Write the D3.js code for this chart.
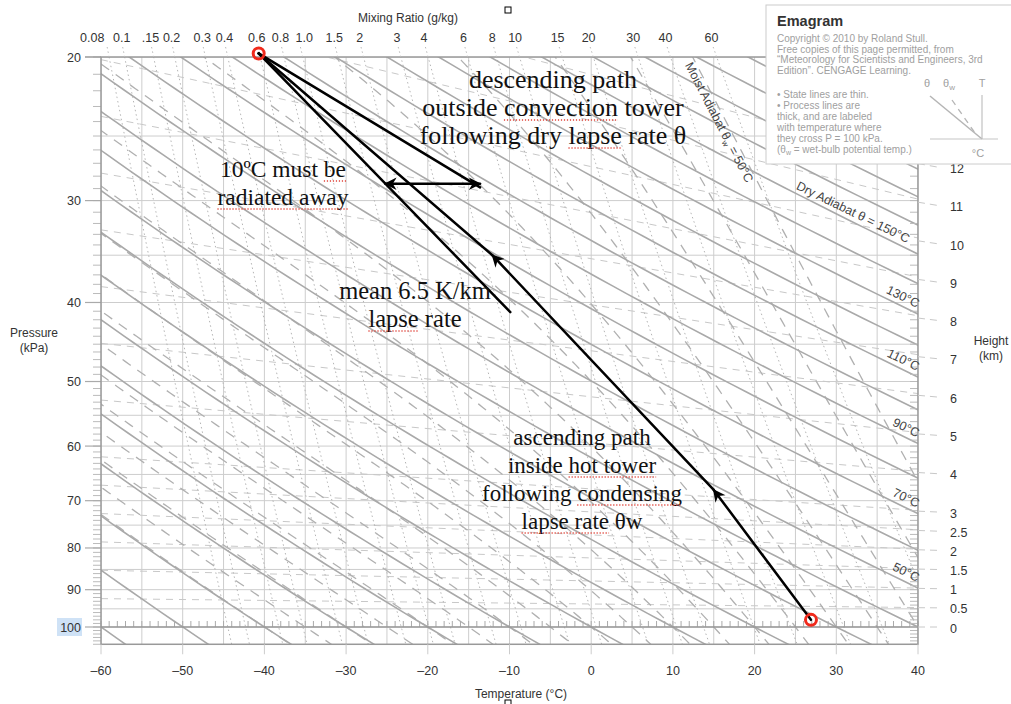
<!DOCTYPE html>
<html lang="en">
<head>
<meta charset="utf-8" />
<title>Emagram</title>
<script src="https://d3js.org/d3.v7.min.js"></script>
<style>
  body { margin: 0; background: #fff; }
  text { font-family: "Liberation Sans", Arial, sans-serif; }
  .tick { font-size: 12.5px; fill: #333; }
  .note { font-family: "Liberation Serif", "Times New Roman", serif; font-size: 23px; fill: #111; }
  .legend { font-size: 10px; fill: #a0a0a0; }
</style>
</head>
<body>
<script>
// ---- chart data ----
const tempTicks = [-60, -50, -40, -30, -20, -10, 0, 10, 20, 30, 40];
const isotherms = [-60, -55, -50, -45, -40, -35, -30, -25, -20, -15, -10, -5, 0, 5, 10, 15, 20, 25, 30, 35, 40];
const pressureTicks = [20, 30, 40, 50, 60, 70, 80, 90, 100];
const isobars = [20, 25, 30, 35, 40, 45, 50, 55, 60, 65, 70, 75, 80, 85, 90, 95, 100];
const dryAdiabats = [-60, -50, -40, -30, -20, -10, 0, 10, 20, 30, 40, 50, 60, 70, 80, 90, 100, 110, 120, 130, 140, 150, 160, 170, 180, 190, 200, 210, 220];
const dryLabels = [50, 70, 90, 110, 130, 150];
const moistAdiabats = [-40, -35, -30, -25, -20, -15, -10, -5, 0, 5, 10, 15, 20, 25, 30, 35, 40, 45, 50];
const mixingRatios = [0.08, 0.1, 0.15, 0.2, 0.3, 0.4, 0.6, 0.8, 1.0, 1.5, 2, 3, 4, 6, 8, 10, 15, 20, 30, 40, 60];
const mixingLabels = ["0.08", "0.1", ".15", "0.2", "0.3", "0.4", "0.6", "0.8", "1.0", "1.5", "2", "3", "4", "6", "8", "10", "15", "20", "30", "40", "60"];
const heights = [0, 0.5, 1, 1.5, 2, 2.5, 3, 4, 5, 6, 7, 8, 9, 10, 11, 12];
const heightLabels = ["0", "0.5", "1", "1.5", "2", "2.5", "3", "4", "5", "6", "7", "8", "9", "10", "11", "12"];

// annotation paths, [T (degC), P (kPa)]
const topPoint = [-40.7, 19.8];
const bottomPoint = [26.9, 98];
const ascendPath = [[26.9, 98], [15.0, 67.9], [-12.1, 35.0], [-40.7, 19.8]];
const descendPath = [[-40.7, 19.8], [-13.6, 28.9]];
const meanLapsePath = [[-40.7, 19.8], [-9.9, 41.1]];
const radiatedArrow = [[-25.2, 28.6], [-13.6, 28.6]];

// note blocks: centre x, first baseline, font size, flagged words
const notes = [
  { lines: ["descending path", "outside convection tower", "following dry lapse rate θ"], cx: 553, y0: 88, size: 26,
    flags: [[], ["convection"], ["lapse"]] },
  { lines: ["10ºC must be", "radiated away"], cx: 283, y0: 177, size: 23.5, flags: [["be"], ["radiated away"]] },
  { lines: ["mean 6.5 K/km", "lapse rate"], cx: 415, y0: 299, size: 24.5, flags: [[], ["lapse"]] },
  { lines: ["ascending path", "inside hot tower", "following condensing", "lapse rate θw"], cx: 582, y0: 445, size: 23,
    flags: [[], ["hot tower"], ["condensing"], ["lapse rate"]] }
];

// ---- thermodynamics ----
const Rd = 287, cp = 1004, Lv = 2.5e6, eps = 0.622, LRv = 5423, K0 = 273.15;
const es = Tc => 0.6113 * Math.exp(LRv * (1 / K0 - 1 / (Tc + K0)));
const dryT = (th, p) => (th + K0) * Math.pow(p / 100, Rd / cp) - K0;
const mixT = (r, p) => {
  const e = (r / 1000) * p / (eps + r / 1000);
  return 1 / (1 / K0 - Math.log(e / 0.6113) / LRv) - K0;
};
const heightP = (z, Tc) => 100 * Math.exp(-9.8 * z * 1000 / (Rd * (Tc + K0)));
function moistSlope(TK, lnp) {
  const p = Math.exp(lnp), e = es(TK - K0), rs = eps * e / (p - e);
  return (Rd * TK + Lv * rs) / (cp + Lv * Lv * rs * eps / (Rd * TK * TK));
}
function moistCurve(tw) {
  const pts = [];
  const step = (TK, lnp, h) => {
    const k1 = moistSlope(TK, lnp);
    const k2 = moistSlope(TK + h * k1 / 2, lnp + h / 2);
    const k3 = moistSlope(TK + h * k2 / 2, lnp + h / 2);
    const k4 = moistSlope(TK + h * k3, lnp + h);
    return TK + h * (k1 + 2 * k2 + 2 * k3 + k4) / 6;
  };
  let TK = tw + K0, lnp = Math.log(100);
  while (lnp > Math.log(18)) { pts.unshift([TK - K0, Math.exp(lnp)]); TK = step(TK, lnp, -0.01); lnp -= 0.01; }
  TK = tw + K0; lnp = Math.log(100);
  while (lnp < Math.log(108)) { lnp += 0.01; TK = step(TK, lnp - 0.01, 0.01); pts.push([TK - K0, Math.exp(lnp)]); }
  return pts;
}

// ---- layout ----
const W = 1011, H = 704;
const pTop = 20, pBottom = 105;
const x = d3.scaleLinear().domain([-60, 40]).range([101, 918]);
const y = d3.scaleLog().domain([20, 100]).range([57, 627]);
const line = d3.line().x(d => x(d[0])).y(d => y(d[1]));
const pSamples = d3.range(0, 81).map(i => 17 * Math.pow(108 / 17, i / 80));

const svg = d3.select("body").append("svg").attr("width", W).attr("height", H);
const defs = svg.append("defs");
defs.append("clipPath").attr("id", "plot").append("rect")
  .attr("x", x(-60)).attr("y", y(pTop)).attr("width", x(40) - x(-60)).attr("height", y(pBottom) - y(pTop));
defs.append("marker").attr("id", "head").attr("viewBox", "0 0 10 10").attr("refX", 9).attr("refY", 5)
  .attr("markerWidth", 6).attr("markerHeight", 5).attr("orient", "auto-start-reverse").attr("markerUnits", "strokeWidth")
  .append("path").attr("d", "M0,0 L10,5 L0,10 L3,5 Z").attr("fill", "#000");

const grid = svg.append("g").attr("clip-path", "url(#plot)");

// isotherms
grid.selectAll(".isotherm").data(isotherms).join("line")
  .attr("x1", d => x(d)).attr("x2", d => x(d)).attr("y1", y(pTop)).attr("y2", y(pBottom))
  .attr("stroke", "#cdcdcd").attr("stroke-width", 1);
// isobars
grid.selectAll(".isobar").data(isobars).join("line")
  .attr("x1", x(-60)).attr("x2", x(40)).attr("y1", d => y(d)).attr("y2", d => y(d))
  .attr("stroke", "#cdcdcd").attr("stroke-width", 1);
// height lines
grid.selectAll(".height").data(heights.filter(h => h > 0)).join("path")
  .attr("d", z => line([[-60, heightP(z, -60)], [45, heightP(z, 45)]]))
  .attr("fill", "none").attr("stroke", "#c8c8c8").attr("stroke-width", 1).attr("stroke-dasharray", "7,6");
// mixing ratio lines
grid.selectAll(".mix").data(mixingRatios).join("path")
  .attr("d", r => line(pSamples.map(p => [mixT(r, p), p])))
  .attr("fill", "none").attr("stroke", "#b5b5b5").attr("stroke-width", 1).attr("stroke-dasharray", "1.5,3");
// moist adiabats
grid.selectAll(".moist").data(moistAdiabats).join("path")
  .attr("d", tw => line(moistCurve(tw)))
  .attr("fill", "none").attr("stroke", "#b0b0b0").attr("stroke-width", 1.3).attr("stroke-dasharray", "10,8");
// dry adiabats
grid.selectAll(".dry").data(dryAdiabats).join("path")
  .attr("d", th => line(pSamples.map(p => [dryT(th, p), p])))
  .attr("fill", "none").attr("stroke", "#a9a9a9").attr("stroke-width", 1.6);

// ticks above the 100 kPa isobar, every 1 degC
const axes = svg.append("g");
axes.selectAll(".t1").data(d3.range(-60, 41)).join("line")
  .attr("x1", d => x(d)).attr("x2", d => x(d)).attr("y1", y(100) - 6).attr("y2", y(100))
  .attr("stroke", "#aaa").attr("stroke-width", 1);
axes.append("line").attr("x1", x(-60)).attr("x2", x(40)).attr("y1", y(100)).attr("y2", y(100))
  .attr("stroke", "#999").attr("stroke-width", 1.5);

// pressure minor ticks every 1 kPa (left outside, right inside)
const minorP = d3.range(20, 106);
axes.selectAll(".pl").data(minorP).join("line")
  .attr("x1", x(-60) - 8).attr("x2", x(-60)).attr("y1", d => y(d)).attr("y2", d => y(d))
  .attr("stroke", "#bbb");
axes.selectAll(".pr").data(minorP).join("line")
  .attr("x1", x(40) - 8).attr("x2", x(40)).attr("y1", d => y(d)).attr("y2", d => y(d))
  .attr("stroke", "#bbb");
axes.selectAll(".pmaj").data(pressureTicks).join("line")
  .attr("x1", x(-60) - 16).attr("x2", x(-60)).attr("y1", d => y(d)).attr("y2", d => y(d))
  .attr("stroke", "#aaa").attr("stroke-width", 1.2);

// frame
axes.append("rect").attr("x", x(-60)).attr("y", y(pTop)).attr("width", x(40) - x(-60)).attr("height", y(pBottom) - y(pTop))
  .attr("fill", "none").attr("stroke", "#999").attr("stroke-width", 1.5);
axes.append("line").attr("x1", x(-60) - 16).attr("x2", x(-60)).attr("y1", y(pTop)).attr("y2", y(pTop)).attr("stroke", "#999");

// temperature ticks + labels
axes.selectAll(".tt").data(tempTicks).join("line")
  .attr("x1", d => x(d)).attr("x2", d => x(d)).attr("y1", y(pBottom)).attr("y2", y(pBottom) + 10)
  .attr("stroke", "#ccc");
axes.selectAll(".tl").data(tempTicks).join("text").attr("class", "tick")
  .attr("x", d => x(d)).attr("y", 675).attr("text-anchor", "middle")
  .text(d => d < 0 ? "\u2013" + Math.abs(d) : d);
axes.append("text").attr("class", "tick").attr("x", 521).attr("y", 698).attr("text-anchor", "middle")
  .style("font-size", "12px").text("Temperature (°C)");

// pressure labels
axes.append("rect").attr("x", 57).attr("y", y(100) - 9).attr("width", 25).attr("height", 18).attr("fill", "#cfe2f6");
axes.selectAll(".pt").data(pressureTicks).join("text").attr("class", "tick")
  .attr("x", 81).attr("y", d => y(d) + 4.5).attr("text-anchor", "end").text(d => d);
axes.append("text").attr("class", "tick").attr("x", 34).attr("y", 337).attr("text-anchor", "middle").style("font-size", "12px").text("Pressure");
axes.append("text").attr("class", "tick").attr("x", 34).attr("y", 352).attr("text-anchor", "middle").style("font-size", "12px").text("(kPa)");

// mixing ratio labels along the top (a couple nudged apart as in the print)
const yLab = 42;
const pLab = y.invert(yLab);
const labelNudge = { "0.08": -14, "1.0": 5 };
axes.selectAll(".mt").data(mixingRatios).join("line")
  .attr("x1", r => x(mixT(r, y.invert(47)))).attr("x2", r => x(mixT(r, pTop)))
  .attr("y1", 47).attr("y2", y(pTop))
  .attr("stroke", "#bbb").attr("stroke-dasharray", "1.5,3");
axes.selectAll(".ml").data(mixingRatios).join("text").attr("class", "tick")
  .attr("x", (r, i) => x(mixT(r, pLab)) + (labelNudge[mixingLabels[i]] || 0)).attr("y", yLab).attr("text-anchor", "middle")
  .text((r, i) => mixingLabels[i]);
axes.append("text").attr("class", "tick").attr("x", 408).attr("y", 22).attr("text-anchor", "middle")
  .style("font-size", "12px").text("Mixing Ratio (g/kg)");

// height scale on the right
const Tend = x.invert(940);
axes.selectAll(".hd").data(heights).join("path")
  .attr("d", z => line([[40, heightP(z, 40)], [Tend, heightP(z, Tend)]]))
  .attr("stroke", "#c8c8c8").attr("stroke-dasharray", "7,5").attr("fill", "none");
axes.selectAll(".hl").data(heights).join("text").attr("class", "tick")
  .attr("x", 950).attr("y", z => y(heightP(z, Tend)) + 5.5).text((z, i) => heightLabels[i]);
axes.append("text").attr("class", "tick").attr("x", 991).attr("y", 345).attr("text-anchor", "middle").style("font-size", "12px").text("Height");
axes.append("text").attr("class", "tick").attr("x", 991).attr("y", 360).attr("text-anchor", "middle").style("font-size", "12px").text("(km)");

// dry adiabat labels
function along(fn, Tc, dy, anchor, txt) {
  const x1 = x(Tc), y1 = y(fn(Tc)), x0 = x(Tc - 0.5), y0 = y(fn(Tc - 0.5));
  const ang = Math.atan2(y1 - y0, x1 - x0) * 180 / Math.PI;
  return axes.append("text").attr("class", "tick").attr("text-anchor", anchor)
    .attr("transform", `translate(${x1},${y1}) rotate(${ang})`).attr("dy", dy).style("fill", "#444").text(txt);
}
dryLabels.forEach(th => {
  const pOf = Tc => 100 * Math.pow((Tc + K0) / (th + K0), cp / Rd);
  if (th === 150) along(pOf, 38.4, -5, "end", "Dry Adiabat  θ = 150°C");
  else along(pOf, 39.6, -5, "end", th + "°C");
});

// moist adiabat label
{
  const mc = moistCurve(50);
  const pick = p => {
    let best = mc[0];
    mc.forEach(d => { if (Math.abs(d[1] - p) < Math.abs(best[1] - p)) best = d; });
    return best;
  };
  const a = pick(20.4), b = pick(22);
  const ang = Math.atan2(y(b[1]) - y(a[1]), x(b[0]) - x(a[0])) * 180 / Math.PI;
  const t = axes.append("text").attr("class", "tick").style("fill", "#444")
    .attr("transform", `translate(${x(a[0]) - 15},${y(a[1]) + 3}) rotate(${ang})`).attr("dy", -4);
  t.append("tspan").text("Moist Adiabat  θ");
  t.append("tspan").attr("dy", 3).style("font-size", "8px").text("w");
  t.append("tspan").attr("dy", -3).text(" = 50°C");
}

// legend box
const lg = svg.append("g");
lg.append("rect").attr("x", 766).attr("y", 5).attr("width", 260).attr("height", 159)
  .attr("fill", "#fff").attr("stroke", "#ccc");
lg.append("text").attr("x", 777).attr("y", 26).style("font-size", "14.5px").style("font-weight", "bold").style("fill", "#333").text("Emagram");
const legendLines = [
  ["Copyright © 2010 by Roland Stull.", 42],
  ["Free copies of this page permitted, from", 52.5],
  ["\u201CMeteorology for Scientists and Engineers, 3rd", 63],
  ["Edition\u201D.  CENGAGE Learning.", 73.5],
  ["\u2022 State lines are thin.", 98],
  ["\u2022 Process lines are", 109],
  ["thick, and are labeled", 120],
  ["with temperature where", 131],
  ["they cross P = 100 kPa.", 142]
];
legendLines.forEach(([s, yy]) => lg.append("text").attr("class", "legend").attr("x", 777).attr("y", yy).text(s));
{
  const t = lg.append("text").attr("class", "legend").attr("x", 777).attr("y", 153);
  t.append("tspan").text("(θ");
  t.append("tspan").attr("dy", 2).style("font-size", "7px").text("w");
  t.append("tspan").attr("dy", -2).text(" = wet-bulb potential temp.)");
}
lg.append("text").attr("class", "legend").attr("x", 927).attr("y", 87).attr("text-anchor", "middle").style("font-size", "11px").text("θ");
{
  const t = lg.append("text").attr("class", "legend").attr("x", 949).attr("y", 87).attr("text-anchor", "middle").style("font-size", "11px");
  t.append("tspan").text("θ");
  t.append("tspan").attr("dy", 3).style("font-size", "8px").text("w");
}
lg.append("text").attr("class", "legend").attr("x", 982).attr("y", 87).attr("text-anchor", "middle").style("font-size", "11px").text("T");
lg.append("line").attr("x1", 930).attr("y1", 96).attr("x2", 982).attr("y2", 139).attr("stroke", "#b5b5b5").attr("stroke-width", 1.5);
lg.append("line").attr("x1", 952).attr("y1", 100).attr("x2", 975).attr("y2", 133).attr("stroke", "#b5b5b5").attr("stroke-width", 1.3).attr("stroke-dasharray", "6,5");
lg.append("line").attr("x1", 982).attr("y1", 95).attr("x2", 982).attr("y2", 139).attr("stroke", "#b5b5b5");
lg.append("line").attr("x1", 930).attr("y1", 139).attr("x2", 998).attr("y2", 139).attr("stroke", "#c5c5c5");
lg.append("text").attr("class", "legend").attr("x", 978).attr("y", 157).attr("text-anchor", "middle").style("font-size", "11px").text("°C");

// ---- annotations ----
const ann = svg.append("g");
const seg = (pts, end, start) => ann.append("path").attr("d", line(pts)).attr("fill", "none")
  .attr("stroke", "#000").attr("stroke-width", 2.5).attr("stroke-linecap", "round")
  .attr("marker-end", end ? "url(#head)" : null).attr("marker-start", start ? "url(#head)" : null);
seg([ascendPath[0], ascendPath[1]], true);
seg([ascendPath[1], ascendPath[2]], true);
seg([ascendPath[2], ascendPath[3]], false);
seg(descendPath, false);
seg(meanLapsePath, false);
seg(radiatedArrow, true, true);

[topPoint, bottomPoint].forEach(d => ann.append("circle").attr("cx", x(d[0])).attr("cy", y(d[1])).attr("r", 5.5)
  .attr("fill", "none").attr("stroke", "#f02a1c").attr("stroke-width", 3));

notes.forEach(n => {
  n.lines.forEach((s, i) => {
    const yy = n.y0 + i * 28;
    const t = ann.append("text").attr("class", "note").attr("text-anchor", "middle")
      .style("font-size", n.size + "px").attr("x", n.cx).attr("y", yy).text(s);
    (n.flags[i] || []).forEach(w => {
      const k = s.indexOf(w);
      if (k < 0) return;
      const node = t.node();
      const x0 = node.getStartPositionOfChar(k).x;
      const x1 = node.getEndPositionOfChar(k + w.length - 1).x;
      ann.append("line").attr("x1", x0).attr("x2", x1).attr("y1", yy + 4).attr("y2", yy + 4)
        .attr("stroke", "#e0443a").attr("stroke-width", 1.4).attr("stroke-dasharray", "1.2,1.8");
    });
  });
});

// selection handles
[[505, 7], [505, 700]].forEach(([a, b]) => svg.append("rect").attr("x", a).attr("y", b).attr("width", 6).attr("height", 6)
  .attr("fill", "#fff").attr("stroke", "#000").attr("stroke-width", 1));
</script>
</body>
</html>
